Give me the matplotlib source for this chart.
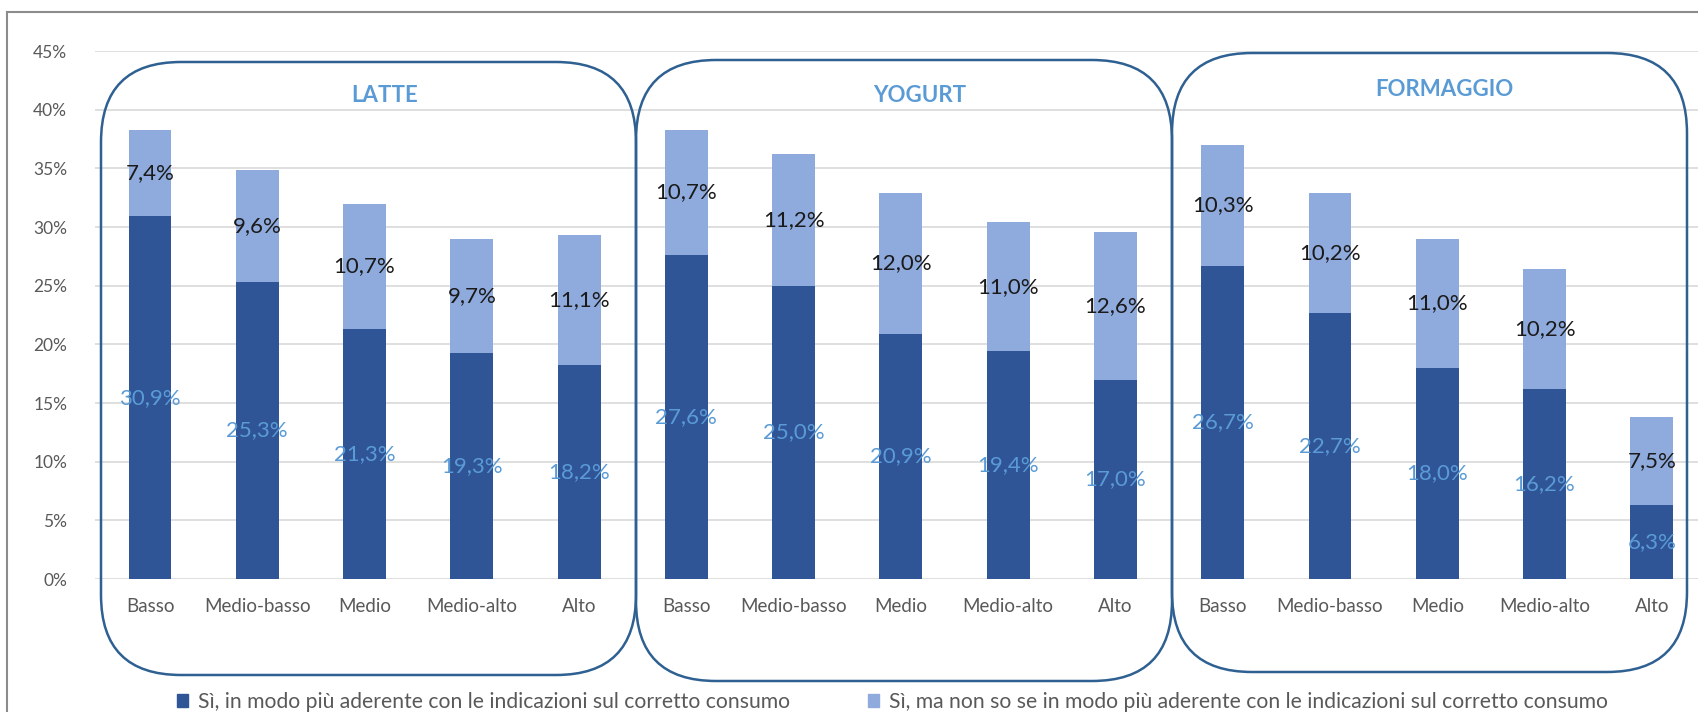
import numpy as np
import matplotlib.pyplot as plt
from matplotlib.patches import FancyBboxPatch, Patch
from matplotlib.transforms import IdentityTransform
from matplotlib.lines import Line2D

plt.rcParams['font.family'] = ['Lato', 'DejaVu Sans']

#%% data

groups = ['LATTE', 'YOGURT', 'FORMAGGIO']
levels = ['Basso', 'Medio-basso', 'Medio', 'Medio-alto', 'Alto']

# Sì, in modo più aderente ...
dark_latte = [30.9, 25.3, 21.3, 19.3, 18.2]
dark_yogurt = [27.6, 25.0, 20.9, 19.4, 17.0]
dark_formaggio = [26.7, 22.7, 18.0, 16.2, 6.3]

# Sì, ma non so se ...
light_latte = [7.4, 9.6, 10.7, 9.7, 11.1]
light_yogurt = [10.7, 11.2, 12.0, 11.0, 12.6]
light_formaggio = [10.3, 10.2, 11.0, 10.2, 7.5]

yticks = [0, 5, 10, 15, 20, 25, 30, 35, 40, 45]

leg_dark = 'Sì, in modo più aderente con le indicazioni sul corretto consumo'
leg_light = 'Sì, ma non so se in modo più aderente con le indicazioni sul corretto consumo'

c_dark = '#2F5597'
c_light = '#8FAADC'
c_title = '#5B9BD5'
c_box = '#2E6092'
c_grid = '#D9D9D9'
c_tick = '#595959'

#%% plot

W, H = 1699, 712
fig = plt.figure(figsize=(W / 100, H / 100), dpi=100)
ax = fig.add_axes([95 / W, 1 - 579 / H, 1 - 95 / W, (579 - 51) / H])

dark = np.array(dark_latte + dark_yogurt + dark_formaggio)
light = np.array(light_latte + light_yogurt + light_formaggio)
x = np.arange(len(dark))

ax.bar(x, dark, width=0.4, color=c_dark, zorder=2)
ax.bar(x, light, bottom=dark, width=0.4, color=c_light, zorder=2)

def fmt(v):
    return f'{v:.1f}'.replace('.', ',') + '%'

for xi, d, l in zip(x, dark, light):
    ax.text(xi, d / 2, fmt(d), ha='center', va='center', color=c_title,
            fontsize=16, zorder=3)
    ax.text(xi, d + l / 2, fmt(l), ha='center', va='center', color='#1a1a1a',
            fontsize=16, zorder=3)

ax.set_xlim(-0.513, 14.44)
ax.set_ylim(0, 45)
ax.set_yticks(yticks)
ax.set_yticklabels([f'{t}%' for t in yticks])
ax.set_xticks(x)
ax.set_xticklabels(levels * len(groups))
ax.tick_params(length=0, colors=c_tick)
ax.tick_params(axis='y', pad=20, labelsize=12.5)
ax.tick_params(axis='x', pad=14, labelsize=13.5)
ax.yaxis.grid(True, color=c_grid, lw=1.2, zorder=0)
for s in ax.spines.values():
    s.set_visible(False)

# rounded group boxes (pixel coords, top-left origin)
boxes = [(101, 62, 636, 675), (636, 60, 1172, 681), (1172, 53, 1687, 672)]
titles_pos = [(385, 95), (920, 95), (1444, 89)]
for (x0, y0, x1, y1), (tx, ty), g in zip(boxes, titles_pos, groups):
    p = FancyBboxPatch((x0, H - y1), x1 - x0, y1 - y0,
                       boxstyle='round,pad=0,rounding_size=80',
                       transform=IdentityTransform(), fill=False,
                       ec=c_box, lw=1.8, zorder=5)
    fig.add_artist(p)
    fig.text(tx / W, 1 - ty / H, g, ha='center', va='center', color=c_title,
             fontsize=16, fontweight='bold')

# outer frame (cropped)
fig.add_artist(Line2D([7 / W, 1], [1 - 12 / H, 1 - 12 / H], transform=fig.transFigure,
                      color='#8C8C8C', lw=1.5))
fig.add_artist(Line2D([7 / W, 7 / W], [0, 1 - 12 / H], transform=fig.transFigure,
                      color='#8C8C8C', lw=1.5))

handles = [Patch(color=c_dark, label=leg_dark), Patch(color=c_light, label=leg_light)]
fig.legend(handles=handles, loc='center left', bbox_to_anchor=(158 / W, 1 - 702 / H),
           ncol=2, frameon=False, fontsize=15.2, handlelength=0.5, handleheight=0.5,
           handletextpad=0.5, columnspacing=3.7, labelcolor=c_tick)

fig.savefig('out.png', dpi=100)
